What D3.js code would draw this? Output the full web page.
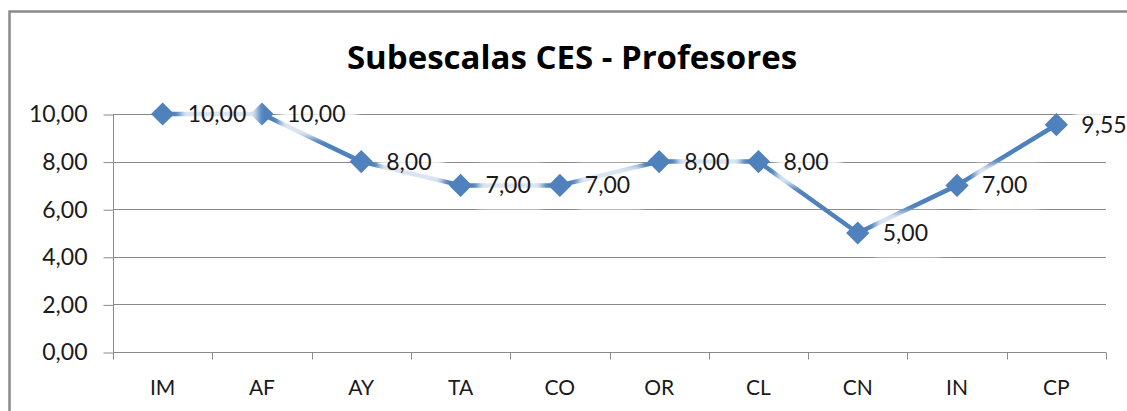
<!DOCTYPE html>
<html>
<head>
<meta charset="utf-8">
<script src="https://cdn.jsdelivr.net/npm/d3@7"></script>
<style>
  body { margin: 0; background: #fff; }
  svg { display: block; }
</style>
</head>
<body>
<div id="chart"></div>
<script>
const categories = ['IM', 'AF', 'AY', 'TA', 'CO', 'OR', 'CL', 'CN', 'IN', 'CP']
const values = [10, 10, 8, 7, 7, 8, 8, 5, 7, 9.55]
const yTicks = [0, 2, 4, 6, 8, 10]
const title = 'Subescalas CES - Profesores'

const W = 1127, H = 411
const margin = { top: 114, right: 21, bottom: 59, left: 113 }
const fmt = v => d3.format('.2f')(v).replace('.', ',')
const blue = '#4f81bd', grey = '#8a8a8a', font = 'Lato, Calibri, sans-serif'

let svg = d3.select('#chart').append('svg')
  .attr('width', W)
  .attr('height', H)

// soft edges for the label boxes
svg.append('defs').append('filter')
  .attr('id', 'soft')
  .attr('x', '-20%').attr('y', '-20%').attr('width', '140%').attr('height', '140%')
  .append('feGaussianBlur')
  .attr('stdDeviation', 3)

// chart border (right and bottom are off the picture)
svg.append('rect')
  .attr('x', 9.5).attr('y', 11.5)
  .attr('width', W + 20).attr('height', H + 20)
  .attr('fill', '#fff')
  .attr('stroke', grey)
  .attr('stroke-width', 2.5)

svg.append('text')
  .attr('x', 572).attr('y', 69)
  .attr('text-anchor', 'middle')
  .attr('font-family', '"Open Sans", sans-serif')
  .attr('font-weight', 'bold')
  .attr('font-size', 33)
  .attr('fill', '#000')
  .text(title)

let x = d3.scaleBand()
  .domain(categories)
  .range([margin.left, W - margin.right])

let y = d3.scaleLinear()
  .domain([0, 10])
  .range([H - margin.bottom, margin.top])

// gridlines
svg.append('g')
  .selectAll('line')
  .data(yTicks.slice(1))
  .enter()
  .append('line')
  .attr('x1', margin.left).attr('x2', W - margin.right)
  .attr('y1', d => Math.round(y(d)) + 0.5).attr('y2', d => Math.round(y(d)) + 0.5)
  .attr('stroke', grey)

// y axis
let yAxis = svg.append('g')
  .attr('transform', 'translate(' + (margin.left + 0.5) + ',0.5)')
  .call(d3.axisLeft(y).tickValues(yTicks).tickFormat(fmt).tickSize(10).tickPadding(16))
yAxis.select('.domain').attr('stroke', grey).attr('d', 'M0,' + y(10) + 'V' + y(0))
yAxis.selectAll('.tick line').attr('stroke', grey)
yAxis.selectAll('.tick text')
  .attr('font-family', font).attr('font-size', 23).attr('fill', '#1a1a1a')

// x axis with ticks between categories
let xAxis = svg.append('g')
  .attr('transform', 'translate(0,' + (Math.round(y(0)) + 0.5) + ')')
xAxis.append('line')
  .attr('x1', margin.left).attr('x2', W - margin.right)
  .attr('stroke', grey)
xAxis.selectAll('line.tk')
  .data(d3.range(categories.length + 1))
  .enter()
  .append('line')
  .attr('class', 'tk')
  .attr('x1', i => Math.round(margin.left + i * x.step()) + 0.5)
  .attr('x2', i => Math.round(margin.left + i * x.step()) + 0.5)
  .attr('y1', 0).attr('y2', 7)
  .attr('stroke', grey)
xAxis.selectAll('text')
  .data(categories)
  .enter()
  .append('text')
  .attr('x', d => x(d) + x.bandwidth() / 2)
  .attr('y', 42)
  .attr('text-anchor', 'middle')
  .attr('font-family', font)
  .attr('font-size', 21)
  .attr('fill', '#1a1a1a')
  .text(d => d)

let cx = (d, i) => x(categories[i]) + x.bandwidth() / 2

// the series line
let line = d3.line()
  .x(cx)
  .y(d => y(d))
svg.append('path')
  .datum(values)
  .attr('d', line)
  .attr('fill', 'none')
  .attr('stroke', blue)
  .attr('stroke-width', 4.5)
  .attr('stroke-linejoin', 'round')

// diamond markers
let diamond = d3.symbol().type(d3.symbolSquare).size(270)
svg.append('g')
  .selectAll('path')
  .data(values)
  .enter()
  .append('path')
  .attr('d', diamond)
  .attr('transform', (d, i) => 'translate(' + cx(d, i) + ',' + y(d) + ')rotate(45)')
  .attr('fill', blue)

// data labels, right of the markers, with white boxes
let labels = svg.append('g')
  .selectAll('g')
  .data(values)
  .enter()
  .append('g')
  .attr('transform', (d, i) => 'translate(' + (cx(d, i) + 25) + ',' + y(d) + ')')
labels.append('rect')
  .attr('x', -7).attr('y', -21)
  .attr('width', d => fmt(d).length * 13 + 12).attr('height', 45)
  .attr('fill', '#fff')
  .attr('opacity', 0.8)
  .attr('filter', 'url(#soft)')
labels.append('text')
  .attr('dy', '0.35em')
  .attr('font-family', font)
  .attr('font-size', 23)
  .attr('fill', '#1a1a1a')
  .text(d => fmt(d))
</script>
</body>
</html>
